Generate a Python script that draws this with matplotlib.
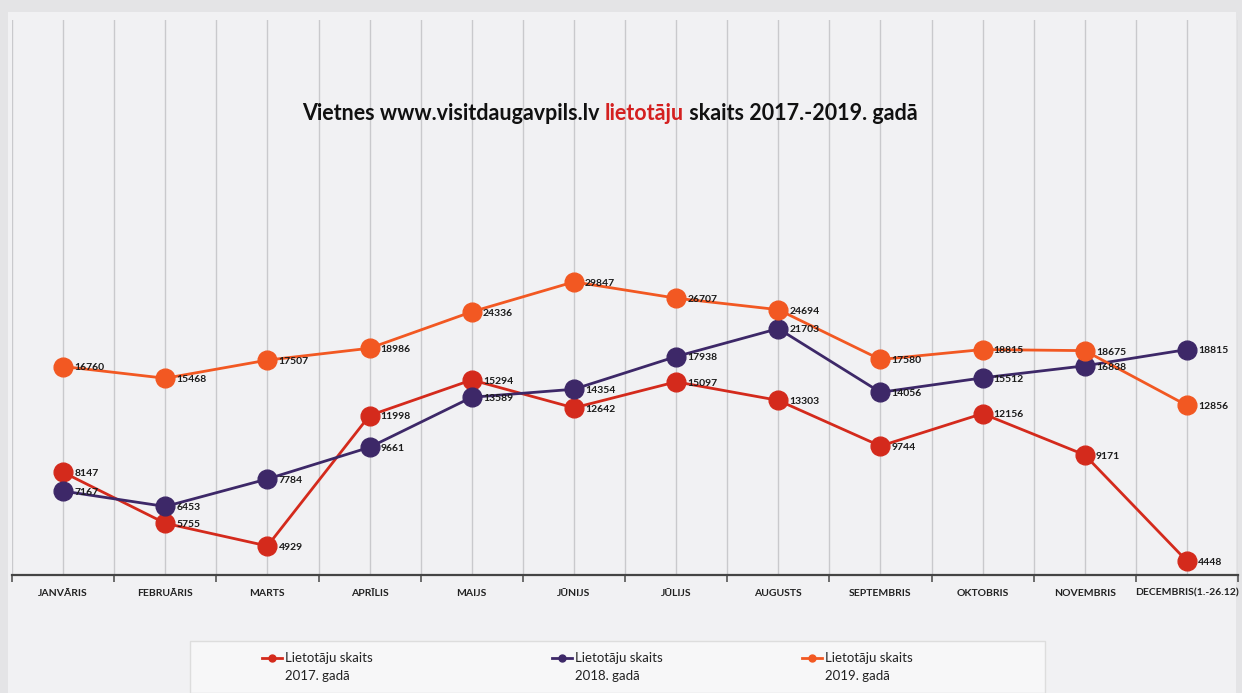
import matplotlib
matplotlib.use("Agg")
import matplotlib.pyplot as plt
from matplotlib.lines import Line2D
from matplotlib.patches import Rectangle
import numpy as np

plt.rcParams['font.family'] = ['Lato', 'DejaVu Sans']

months = ["JANVĀRIS", "FEBRUĀRIS", "MARTS", "APRĪLIS", "MAIJS", "JŪNIJS",
          "JŪLIJS", "AUGUSTS", "SEPTEMBRIS", "OKTOBRIS", "NOVEMBRIS", "DECEMBRIS(1.-26.12)"]
users_2017 = [8147, 5755, 4929, 11998, 15294, 12642, 15097, 13303, 9744, 12156, 9171, 4448]
users_2018 = [7167, 6453, 7784, 9661, 13589, 14354, 17938, 21703, 14056, 15512, 16838, 18815]
users_2019 = [16760, 15468, 17507, 18986, 24336, 29847, 26707, 24694, 17580, 18815, 18675, 12856]
series_labels = ["Lietotāju skaits\n2017. gadā", "Lietotāju skaits\n2018. gadā", "Lietotāju skaits\n2019. gadā"]
colors = ["#d42a1c", "#3d2868", "#f25822"]

W, H = 1242, 693
fig = plt.figure(figsize=(W / 100, H / 100), dpi=100, facecolor="#e4e4e6")

# light slide panel
fig.patches.append(Rectangle((8 / W, 0), (1236 - 8) / W, 1 - 12 / H, transform=fig.transFigure,
                             facecolor="#f1f1f3", edgecolor="none", zorder=-5))

ax = fig.add_axes([12 / W, 1 - 575 / H, (1238 - 12) / W, (575 - 20) / H])
ax.set_facecolor("none")
ax.set_yscale("log")
ax.set_ylim(4044, 178000)
ax.set_xlim(-0.5, 11.5)

x = np.arange(len(months))
ax.set_xticks(list(x - 0.5) + [11.5])
ax.set_xticklabels([])
ax.set_xticks(x, labels=months, minor=True)
ax.tick_params(axis="x", which="major", length=5, color="#555555", width=1.2, direction="out")
ax.tick_params(axis="x", which="minor", length=0, pad=10, labelsize=7.5, labelcolor="#222222")
for lab in ax.get_xticklabels(minor=True):
    lab.set_fontweight("bold")
ax.grid(axis="x", which="both", color="#c9c9cc", linewidth=1.0)
ax.set_yticks([])
ax.yaxis.set_minor_locator(matplotlib.ticker.NullLocator())
for side in ["left", "right", "top"]:
    ax.spines[side].set_visible(False)
ax.spines["bottom"].set_color("#444444")
ax.spines["bottom"].set_linewidth(1.6)

for vals, col in zip([users_2017, users_2018, users_2019], colors):
    ax.plot(x, vals, color=col, linewidth=2.0, marker="o", markersize=13.5,
            markerfacecolor=col, markeredgecolor=col, zorder=3)
    for xi, v in zip(x, vals):
        ax.annotate(f"{v}", (xi, v), xytext=(8, -1), textcoords="offset points",
                    ha="left", va="center", fontsize=7.5, fontweight="bold",
                    color="#1a1a1a", zorder=5)

# title with coloured word
parts = [("Vietnes www.visitdaugavpils.lv ", "#111111"), ("lietotāju", "#d42020"),
         (" skaits 2017.-2019. gadā", "#111111")]
renderer = fig.canvas.get_renderer()
texts = []
for s, c in parts:
    t = fig.text(0, 1 - 113 / H, s, color=c, fontsize=15.5, fontweight="bold", va="center", ha="left")
    texts.append(t)
widths = [t.get_window_extent(renderer=renderer).width for t in texts]
total = sum(widths)
start = 610 - total / 2
for t, w in zip(texts, widths):
    t.set_x(start / W)
    start += w

# legend box
fig.patches.append(Rectangle((190 / W, 0), (1045 - 190) / W, 52 / H, transform=fig.transFigure,
                             facecolor="#f7f7f8", edgecolor="#dddddd", zorder=1))
leg_x = [262, 552, 802]
for lx, lab, col in zip(leg_x, series_labels, colors):
    yl = 1 - 658 / H
    fig.lines.append(Line2D([lx / W, (lx + 20) / W], [yl, yl], transform=fig.transFigure,
                            color=col, linewidth=2, zorder=2))
    fig.lines.append(Line2D([(lx + 10) / W], [yl], transform=fig.transFigure, marker="o",
                            markersize=5, color=col, zorder=2))
    fig.text((lx + 23) / W, 1 - 667 / H, lab, fontsize=9.5, color="#222222",
             va="center", ha="left", linespacing=1.5, zorder=3)

fig.savefig("out.png", dpi=100, facecolor=fig.get_facecolor())
